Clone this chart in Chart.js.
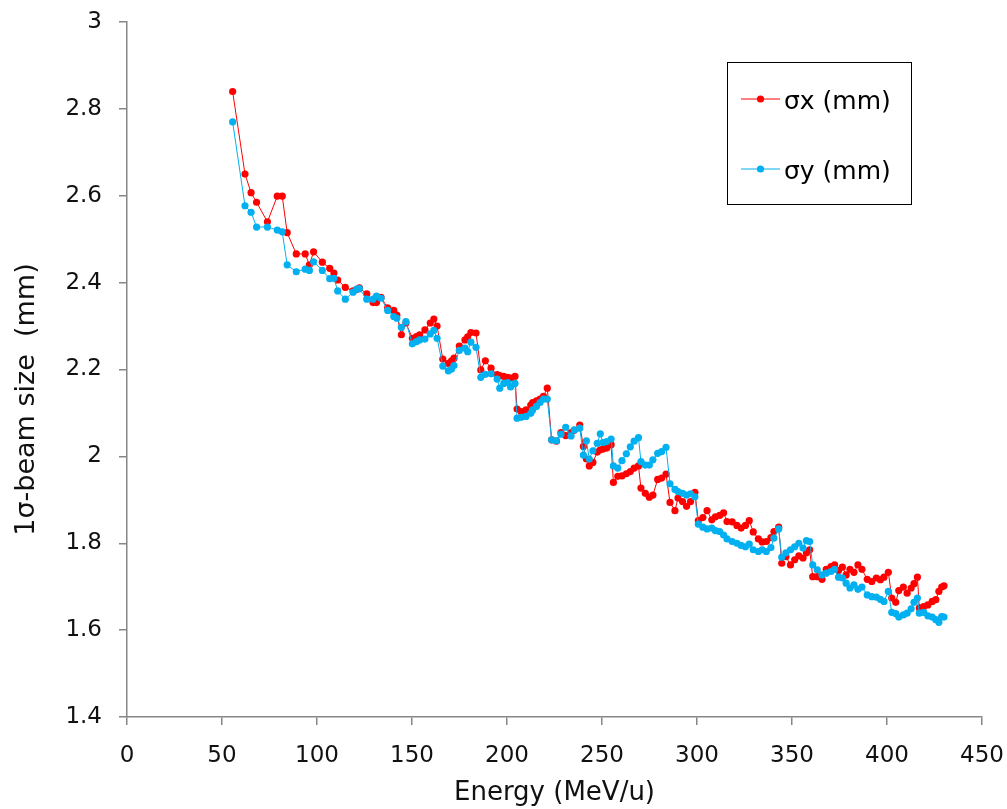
<!DOCTYPE html>
<html><head><meta charset="utf-8">
<script src="https://cdn.jsdelivr.net/npm/chart.js@4.4.1/dist/chart.umd.min.js"></script>
<style>html,body{margin:0;padding:0;background:#fff}#wrap{width:1007px;height:809px}</style>
</head><body><div id="wrap"><canvas id="c" width="1007" height="809"></canvas></div>
<script>
// Energy (MeV/u)
const energy = [
  55.6,62.1,65.3,68.2,73.9,79.1,81.7,84.3,89.1,93.8,
  96.0,98.2,102.8,106.7,108.9,110.9,114.9,119.0,120.9,122.3,
  126.2,129.5,131.3,133.7,137.2,140.4,142.0,144.4,146.8,
  150.2,152.3,154.0,156.8,159.6,161.5,163.2,166.2,169.1,170.8,
  172.1,174.9,177.9,179.3,181.0,183.7,186.2,188.6,191.6,194.8,
  196.2,198.3,200.4,201.9,204.2,205.3,207.5,210.0,212.5,213.5,
  215.5,217.4,219.2,221.2,
  223.5,226.0,228.4,230.9,233.7,235.4,238.3,240.2,241.8,243.3,
  245.2,247.5,249.1,250.5,252.5,254.8,256.0,258.3,260.5,262.8,
  264.9,266.9,269.2,270.5,272.8,274.9,276.8,279.3,281.4,283.7,
  285.8,288.4,290.0,292.4,294.5,296.6,298.9,
  300.7,303.1,305.3,307.8,309.7,311.9,314.0,315.8,318.5,321.0,
  323.2,325.5,327.5,329.6,332.3,334.3,336.5,338.9,340.5,343.0,
  344.6,346.8,349.2,351.4,353.6,355.8,357.6,359.3,360.9,363.3,
  365.8,368.0,370.5,372.4,374.5,376.5,378.5,380.5,382.6,384.7,
  386.8,389.6,392.0,394.4,396.5,398.4,400.7,402.5,404.6,406.2,
  408.6,410.6,412.7,414.2,416.0,417.0,419.3,421.5,423.8,425.7,
  427.3,428.8,430.0
];
// sigma x (mm)
const sigmaX = [
  2.840,2.650,2.607,2.585,2.540,2.599,2.599,2.515,2.466,2.466,
  2.441,2.471,2.447,2.433,2.422,2.406,2.389,2.381,2.384,2.388,
  2.374,2.354,2.354,2.366,2.342,2.336,2.325,2.280,2.307,
  2.272,2.276,2.280,2.291,2.307,2.316,2.300,2.224,2.214,2.220,
  2.226,2.254,2.268,2.275,2.285,2.284,2.199,2.220,2.203,2.188,
  2.186,2.184,2.182,2.180,2.184,2.109,2.103,2.107,2.118,2.124,
  2.128,2.132,2.138,2.157,
  2.038,2.035,2.055,2.048,2.055,2.060,2.072,2.023,1.994,1.978,
  1.986,2.010,2.015,2.017,2.019,2.027,1.940,1.954,1.955,1.960,
  1.965,1.973,1.978,1.927,1.915,1.906,1.911,1.947,1.950,1.959,
  1.894,1.875,1.904,1.896,1.885,1.896,1.917,
  1.852,1.859,1.875,1.854,1.861,1.864,1.870,1.850,1.849,1.841,
  1.835,1.841,1.852,1.826,1.810,1.803,1.804,1.813,1.827,1.837,
  1.754,1.769,1.750,1.762,1.771,1.766,1.778,1.785,1.723,1.723,
  1.717,1.740,1.746,1.750,1.737,1.745,1.727,1.740,1.733,1.750,
  1.740,1.717,1.712,1.720,1.716,1.722,1.733,1.674,1.664,1.691,
  1.699,1.685,1.697,1.707,1.722,1.651,1.654,1.658,1.666,1.670,
  1.689,1.699,1.702
];
// sigma y (mm)
const sigmaY = [
  2.770,2.577,2.562,2.528,2.528,2.521,2.517,2.441,2.425,2.431,
  2.428,2.448,2.428,2.409,2.410,2.381,2.362,2.378,2.385,2.386,
  2.362,2.362,2.369,2.364,2.336,2.322,2.318,2.297,2.310,
  2.259,2.264,2.268,2.270,2.282,2.290,2.272,2.208,2.197,2.201,
  2.209,2.244,2.249,2.241,2.263,2.251,2.182,2.189,2.190,2.178,
  2.157,2.168,2.170,2.160,2.168,2.088,2.090,2.092,2.099,2.107,
  2.115,2.124,2.132,2.132,
  2.038,2.036,2.051,2.067,2.047,2.061,2.065,2.003,2.036,1.994,
  2.013,2.030,2.052,2.032,2.034,2.040,1.978,1.973,1.990,2.006,
  2.022,2.035,2.043,1.988,1.980,1.980,1.992,2.007,2.011,2.021,
  1.937,1.924,1.919,1.915,1.911,1.914,1.907,
  1.844,1.837,1.833,1.835,1.829,1.827,1.819,1.810,1.804,1.800,
  1.795,1.792,1.798,1.785,1.781,1.785,1.781,1.790,1.812,1.833,
  1.768,1.778,1.785,1.792,1.800,1.789,1.806,1.804,1.750,1.739,
  1.727,1.731,1.735,1.740,1.722,1.720,1.708,1.697,1.704,1.694,
  1.699,1.681,1.677,1.676,1.671,1.666,1.689,1.641,1.638,1.630,
  1.635,1.639,1.649,1.664,1.674,1.639,1.641,1.633,1.630,1.624,
  1.618,1.631,1.630
];
const xTickValues = [0,50,100,150,200,250,300,350,400,450];
const yTickValues = [1.4,1.6,1.8,2.0,2.2,2.4,2.6,2.8,3.0];
const yTickLabels = ['1.4','1.6','1.8','2','2.2','2.4','2.6','2.8','3'];
const seriesLabels = ['σx (mm)','σy (mm)'];
const xTitle = 'Energy (MeV/u)';
const yTitle = '1σ-beam size  (mm)';

const RED = '#FF0000', BLUE = '#00B0F0', AXIS = '#868686';
const FONT = '"DejaVu Sans", sans-serif';

function pts(ys){ return energy.map((e,i)=>({x:e,y:ys[i]})); }

const legendBox = {
  id:'legendBox',
  afterDraw(chart){
    const ctx = chart.ctx;
    ctx.save();
    ctx.strokeStyle = '#000'; ctx.lineWidth = 1;
    ctx.strokeRect(727.5, 62.5, 184, 142);
    const rows = [99, 169];
    chart.data.datasets.forEach((ds,i)=>{
      const y = rows[i];
      ctx.strokeStyle = ds.borderColor; ctx.lineWidth = 1;
      ctx.beginPath(); ctx.moveTo(741, y); ctx.lineTo(780, y); ctx.stroke();
      ctx.fillStyle = ds.pointBackgroundColor;
      ctx.beginPath(); ctx.arc(760.5, y, 3.6, 0, Math.PI*2); ctx.fill();
      ctx.fillStyle = '#000'; ctx.font = '25px ' + FONT;
      ctx.textBaseline = 'middle'; ctx.textAlign = 'left';
      ctx.fillText(ds.label, 784, y + 3);
    });
    ctx.restore();
  }
};

new Chart(document.getElementById('c'), {
  type: 'scatter',
  data: {
    datasets: [
      { label: seriesLabels[0], data: pts(sigmaX), showLine: true, borderColor: RED, backgroundColor: RED,
        pointBackgroundColor: RED, pointBorderWidth: 0, pointRadius: 3.6, borderWidth: 1, order: 2 },
      { label: seriesLabels[1], data: pts(sigmaY), showLine: true, borderColor: BLUE, backgroundColor: BLUE,
        pointBackgroundColor: BLUE, pointBorderWidth: 0, pointRadius: 3.6, borderWidth: 1, order: 1 }
    ]
  },
  options: {
    responsive: false, animation: false, devicePixelRatio: 1,
    layout: { padding: { top: 22, right: 25, left: 0, bottom: 0 } },
    plugins: { legend: { display: false }, tooltip: { enabled: false } },
    scales: {
      x: {
        type: 'linear', min: 0, max: 450,
        afterBuildTicks: s => { s.ticks = xTickValues.map(v => ({value: v})); },
        afterFit: s => { s.height = 92; s.paddingLeft = 0; s.paddingRight = 0; },
        ticks: { color: '#111', font: { family: FONT, size: 23 }, padding: 17, maxRotation: 0,
                 callback: v => String(v) },
        grid: { drawOnChartArea: false, drawTicks: true, tickLength: 8, color: AXIS, lineWidth: 1.5 },
        border: { color: AXIS, width: 1.5 },
        title: { display: true, text: xTitle, color: '#111', font: { family: FONT, size: 26 },
                 padding: { top: 0, bottom: 0 } }
      },
      y: {
        type: 'linear', min: 1.4, max: 3,
        afterBuildTicks: s => { s.ticks = yTickValues.map(v => ({value: v})); },
        afterFit: s => { s.width = 127; s.paddingTop = 0; s.paddingBottom = 0; },
        ticks: { color: '#111', font: { family: FONT, size: 23 }, padding: 17,
                 callback: (v) => { const i = yTickValues.findIndex(t => Math.abs(t - v) < 1e-9); return i >= 0 ? yTickLabels[i] : ''; } },
        grid: { drawOnChartArea: false, drawTicks: true, tickLength: 8, color: AXIS, lineWidth: 1.5 },
        border: { color: AXIS, width: 1.5 },
        title: { display: true, text: yTitle + '       ', color: '#111', font: { family: FONT, size: 27 },
                 padding: { top: 11, bottom: 0 } }
      }
    }
  },
  plugins: [legendBox]
});
</script>
</body></html>
